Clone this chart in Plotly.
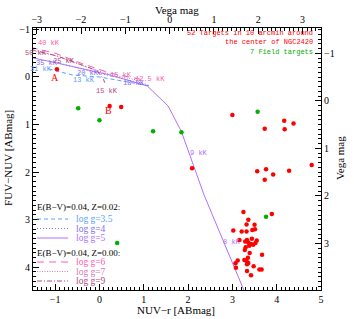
import plotly.graph_objects as go

# ---------------- data ----------------
red_x = [-0.96, 0.23, 0.49, 3.00, 4.17, 4.38, 3.73, 4.18, 2.09, 3.56, 3.76, 3.73, 3.92, 4.28, 4.79,
         3.25, 3.89, 3.36, 3.32, 3.50, 3.45, 3.51, 3.02, 3.21, 3.32, 3.16, 3.33, 3.36, 3.42, 3.47,
         3.52, 3.28, 3.39, 3.67, 3.35, 3.12, 3.27, 3.32, 3.36, 3.07, 3.33, 3.08, 3.48, 3.33, 3.61,
         3.66, 3.42, 3.38, 3.29, 3.55, 3.44, 3.30]
red_y = [-0.16, 0.61, 0.63, 0.80, 0.92, 0.98, 1.09, 1.10, 1.92, 1.98, 1.94, 2.16, 2.05, 1.97, 1.85,
         2.84, 2.88, 3.00, 3.10, 3.11, 3.22, 3.20, 3.23, 3.25, 3.25, 3.43, 3.43, 3.48, 3.51, 3.53,
         3.49, 3.64, 3.70, 3.74, 3.80, 3.86, 3.85, 3.87, 3.91, 3.92, 3.94, 4.01, 3.98, 4.08, 4.05,
         4.05, 4.17, 3.55, 3.46, 3.44, 3.40, 3.58]

green_x = [-0.48, 0.00, 1.21, 1.85, 3.57, 0.40, 3.76]
green_y = [0.66, 0.91, 1.14, 1.16, 0.73, 3.49, 2.94]

# model tracks (NUV-r, FUV-NUV)
g35_x = [-1.15, -0.60, 0.00, 0.50, 1.00, 1.15]
g35_y = [-0.17, -0.04, 0.00, 0.08, 0.15, 0.19]
g4_x = [-0.95, -0.20, 0.50, 1.00, 1.15]
g4_y = [-0.30, -0.12, 0.03, 0.14, 0.19]
g5_x = [-1.55, -1.04, 0.25, 1.08, 1.55, 1.85, 2.36, 3.27, 3.33]
g5_y = [-0.41, -0.31, -0.04, 0.19, 0.61, 1.15, 2.48, 4.50, 4.64]
g6_x = [-1.55, -1.00, -0.36, 0.25, 0.93]
g6_y = [-0.62, -0.50, -0.27, -0.08, 0.05]
g7_x = [-1.55, -1.00, -0.36, 0.25, 0.93]
g7_y = [-0.56, -0.45, -0.23, -0.05, 0.08]
g9_x = [-1.55, -0.95, -0.50, -0.05, 0.09, 0.12]
g9_y = [-0.58, -0.44, -0.29, -0.13, 0.05, 0.12]

temp_labels = ["40 kK", "50 kK", "35 kK", "25 kK", "31 kK", "20 kK", "13 kK", "15 kK",
               "12.5 kK", "18 kK", "15 kK", "9 kK", "8 kK"]
temp_x = [-1.15, -1.43, -1.18, -0.81, -1.33, -0.27, -0.36, 0.48, 1.15, 0.77, 0.18, 2.24, 2.98]
temp_y = [-0.71, -0.50, -0.29, -0.33, -0.17, -0.08, 0.06, -0.04, 0.04, 0.13, 0.29, 1.60, 3.46]

x_ticks = [-1, 0, 1, 2, 3, 4, 5]
y_ticks = [-1, 0, 1, 2, 3, 4]
vega_x_ticks = [-3, -2, -1, 0, 1, 2, 3]
vega_y_ticks = [-1, 0, 1, 2, 3]

# ---------------- style ----------------
C35, C4, C5 = "#5aa0ff", "#8070ee", "#b070ff"
C6, C7, C9 = "#ff5cb0", "#d878b8", "#b04880"
D35, D4, D5 = "4px,3px", "1px,2px", "solid"
D6, D7, D9 = "7px,5px", "1px,1.5px", "5px,2px,1px,2px"
temp_colors = [C6, C9, C4, C9, C35, C4, C35, C7, C6, C4, C9, C5, C5]
SERIF = "Liberation Serif"
MONO = "Liberation Mono"

fig = go.Figure()
tracks = [(g35_x, g35_y, C35, D35), (g4_x, g4_y, C4, D4), (g5_x, g5_y, C5, D5),
          (g6_x, g6_y, C6, D6), (g7_x, g7_y, C7, D7), (g9_x, g9_y, C9, D9)]
for tx, ty, col, dash in tracks:
    fig.add_trace(go.Scatter(x=tx, y=ty, mode="lines", line=dict(color=col, width=1, dash=dash),
                             showlegend=False, hoverinfo="skip"))

fig.add_trace(go.Scatter(x=red_x, y=red_y, mode="markers",
                         marker=dict(color="#ff0000", size=4.5), showlegend=False))
fig.add_trace(go.Scatter(x=green_x, y=green_y, mode="markers",
                         marker=dict(color="#00b000", size=4.5), showlegend=False))
# invisible traces to activate secondary axes
fig.add_trace(go.Scatter(x=[0], y=[0], xaxis="x2", yaxis="y", mode="markers",
                         marker=dict(opacity=0), showlegend=False, hoverinfo="skip"))
fig.add_trace(go.Scatter(x=[0], y=[0], xaxis="x", yaxis="y2", mode="markers",
                         marker=dict(opacity=0), showlegend=False, hoverinfo="skip"))

ann = []
for t, x, y, c in zip(temp_labels, temp_x, temp_y, temp_colors):
    ann.append(dict(x=x, y=y, xref="x", yref="y", text=t, showarrow=False,
                    font=dict(family=MONO, size=7, color=c)))
ann.append(dict(x=-1.0, y=0.01, xref="x", yref="y", text="A", showarrow=False,
                font=dict(family=SERIF, size=10, color="#ff0000")))
ann.append(dict(x=0.21, y=0.71, xref="x", yref="y", text="B", showarrow=False,
                font=dict(family=SERIF, size=10, color="#ff0000")))
for txt, yy, col in [("52 Targets in 10 arcmin around", 0.981, "#ff0000"),
                     ("the center of NGC2420", 0.947, "#ff0000"),
                     ("7 Field targets", 0.909, "#00b000")]:
    ann.append(dict(x=0.979, y=yy, xref="paper", yref="paper", text=txt, showarrow=False,
                    xanchor="right", yanchor="middle", font=dict(family=MONO, size=7, color=col)))

# axis titles
TF = dict(family=SERIF, size=11, color="black")
ann.append(dict(x=0.497, y=-0.076, xref="paper", yref="paper", text="NUV\u2212r [ABmag]",
                showarrow=False, xanchor="center", yanchor="middle", font=TF))
ann.append(dict(x=0.5, y=1.069, xref="paper", yref="paper", text="Vega mag",
                showarrow=False, xanchor="center", yanchor="middle", font=TF))
ann.append(dict(x=-0.087, y=0.504, xref="paper", yref="paper", text="FUV\u2212NUV [ABmag]",
                showarrow=False, xanchor="center", yanchor="middle", textangle=-90, font=TF))
ann.append(dict(x=1.066, y=0.504, xref="paper", yref="paper", text="Vega mag",
                showarrow=False, xanchor="center", yanchor="middle", textangle=-90, font=TF))

# hand-made legend
shapes = []
def pyp(py):
    return (290 - py) / 262.0
legend_rows = [("header", "E(B\u2212V)=0.04, Z=0.02:", 206.5, None, None),
               ("item", "log g=3.5", 219, C35, D35),
               ("item", "log g=4", 228.5, C4, D4),
               ("item", "log g=5", 238, C5, D5),
               ("header", "E(B\u2212V)=0.04, Z=0.00:", 252.5, None, None),
               ("item", "log g=6", 262, C6, D6),
               ("item", "log g=7", 271.5, C7, D7),
               ("item", "log g=9", 281, C9, D9)]
for kind, txt, py, col, dash in legend_rows:
    yy = pyp(py)
    if kind == "header":
        ann.append(dict(x=0.007, y=yy, xref="paper", yref="paper", text=txt, showarrow=False,
                        xanchor="left", yanchor="middle", font=dict(family=SERIF, size=9, color="black")))
    else:
        shapes.append(dict(type="line", xref="paper", yref="paper", x0=0.014, x1=0.122, y0=yy, y1=yy,
                           line=dict(color=col, width=1, dash=dash)))
        ann.append(dict(x=0.142, y=yy, xref="paper", yref="paper", text=txt, showarrow=False,
                        xanchor="left", yanchor="middle", font=dict(family=SERIF, size=9.5, color=col)))

axis_common = dict(showline=True, linecolor="black", linewidth=1, mirror=False, ticks="inside",
                   ticklen=6, tickcolor="black", showgrid=False, zeroline=False, automargin=False,
                   tickfont=dict(family=SERIF, size=10, color="black"),
                   minor=dict(ticks="inside", ticklen=3, dtick=0.1, tickcolor="black", showgrid=False))

fig.update_layout(
    width=354, height=319, paper_bgcolor="white", plot_bgcolor="white",
    margin=dict(l=33, r=33, t=28, b=29), showlegend=False,
    xaxis=dict(range=[-1.5, 5], tickvals=x_ticks, **axis_common),
    yaxis=dict(range=[4.48, -1.03], tickvals=y_ticks, **axis_common),
    xaxis2=dict(range=[-3.084, 3.416], tickvals=vega_x_ticks, overlaying="x", side="top", anchor="y",
                **axis_common),
    yaxis2=dict(range=[3.977, -1.533], tickvals=vega_y_ticks, overlaying="y", side="right", anchor="x",
                **axis_common),
    annotations=ann, shapes=shapes,
)

fig.write_html("out.html", config={"displayModeBar": False},
               post_script="document.body.style.margin='0px';document.body.style.overflow='hidden';")
